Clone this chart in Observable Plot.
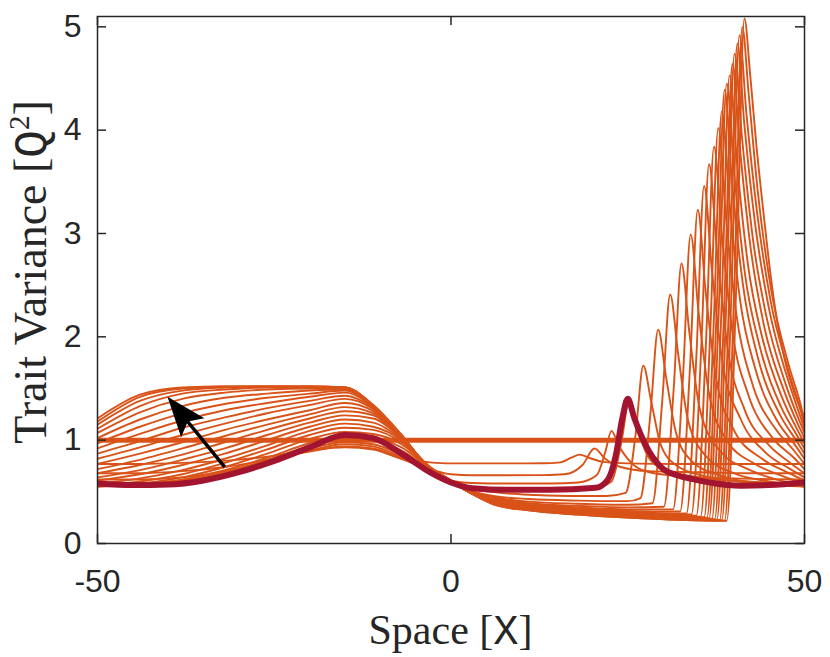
<!DOCTYPE html>
<html><head><meta charset="utf-8">
<script src="https://cdn.jsdelivr.net/npm/d3@7"></script>
<script src="https://cdn.jsdelivr.net/npm/@observablehq/plot@0.6"></script>
<style>body{margin:0;background:#fff}</style>
</head><body><div id="chart"></div>
<script>
// ---- tick values ----
const xTicks = [-50, 0, 50];
const yTicks = [0, 1, 2, 3, 4, 5];

// ---- orange curves: shared left grid (x from -50 to 0) ----
const leftX = [-50, -44, -38, -32, -26, -20, -15, -11, -7, -3, 0];
const leftY = [
  [.77,.77,.78,.80,.84,.90,.93,.91,.82,.785,.775],
  [.68,.68,.70,.74,.81,.89,.94,.92,.82,.72,.67],
  [.62,.62,.64,.70,.79,.90,.96,.94,.83,.69,.61],
  [.58,.58,.61,.68,.79,.92,.98,.96,.85,.69,.59],
  [.56,.57,.61,.69,.81,.94,1.01,.99,.90,.72,.60],
  [.55,.57,.62,.71,.83,.97,1.04,1.02,.93,.73,.60],
  [.55,.58,.64,.74,.87,1.01,1.08,1.06,.96,.74,.61],
  [.56,.60,.67,.78,.91,1.05,1.12,1.10,.98,.74,.61],
  [.58,.63,.71,.82,.95,1.09,1.16,1.13,1.00,.74,.61],
  [.61,.67,.76,.87,1.00,1.13,1.20,1.17,1.01,.74,.61],
  [.64,.71,.81,.92,1.05,1.17,1.24,1.21,1.02,.74,.61],
  [.68,.76,.86,.98,1.10,1.21,1.28,1.24,1.02,.73,.60],
  [.72,.81,.92,1.04,1.15,1.25,1.32,1.26,1.03,.73,.60],
  [.77,.87,.98,1.10,1.20,1.29,1.36,1.28,1.03,.73,.60],
  [.82,.93,1.05,1.16,1.26,1.34,1.40,1.30,1.03,.73,.60],
  [.87,.99,1.12,1.22,1.31,1.38,1.43,1.31,1.04,.73,.60],
  [.92,1.06,1.19,1.29,1.36,1.42,1.46,1.32,1.04,.72,.60],
  [.97,1.13,1.26,1.35,1.41,1.45,1.48,1.32,1.04,.72,.60],
  [1.02,1.20,1.33,1.41,1.45,1.48,1.49,1.33,1.04,.72,.60],
  [1.07,1.27,1.40,1.46,1.49,1.50,1.50,1.33,1.04,.72,.60],
  [1.11,1.33,1.45,1.49,1.51,1.51,1.51,1.33,1.04,.72,.60],
  [1.15,1.38,1.48,1.51,1.52,1.52,1.51,1.33,1.05,.72,.60],
  [1.18,1.42,1.50,1.52,1.52,1.52,1.51,1.34,1.05,.72,.60],
  [1.21,1.44,1.51,1.52,1.52,1.52,1.51,1.34,1.05,.72,.60]
];

// ---- orange curves: right part (x > 0), [x, y] ----
const rightPts = [
  [[3,.775],[8,.775],[13,.776],[15.5,.785],[17,.83],[18.2,.86],[19.5,.83],[21.5,.79],[25,.775],[32,.77],[40,.77],[50,.77]],
  [[3,.66],[8,.66],[13,.662],[16,.67],[18.6,.76],[20.3,.92],[21.8,.82],[24,.74],[28,.70],[35,.69],[42,.68],[50,.68]],
  [[3,.585],[8,.58],[14,.58],[18,.59],[20.6,.66],[21.8,.88],[22.7,1.09],[23.7,.95],[25.5,.78],[28,.69],[33,.65],[40,.63],[50,.62]],
  [[3,.54],[8,.53],[15,.525],[20,.53],[22.7,.60],[24.1,.98],[25.2,1.38],[26.3,1.12],[27.8,.85],[30,.72],[35,.64],[42,.60],[50,.58]],
  [[3,.53],[7,.49],[12,.47],[18,.46],[22,.46],[24.7,.49],[26.1,1.05],[27.2,1.72],[28.3,1.38],[29.7,.95],[32,.75],[36,.65],[42,.59],[50,.56]],
  [[2.5,.52],[6,.46],[11,.43],[18,.415],[25,.41],[26.8,.44],[28.2,1.25],[29.3,2.07],[30.4,1.62],[31.8,1.08],[34,.80],[38,.66],[44,.58],[50,.55]],
  [[2.5,.515],[6,.45],[11,.405],[18,.385],[25,.375],[28.5,.39],[29.9,1.40],[31,2.41],[32.1,1.85],[33.5,1.20],[36,.85],[40,.68],[45,.60],[50,.55]],
  [[2.5,.51],[6,.44],[11,.39],[18,.365],[25,.35],[30.1,.355],[31.5,1.50],[32.6,2.71],[33.7,2.05],[35.2,1.30],[38,.90],[42,.72],[46,.62],[50,.56]],
  [[2.5,.505],[6,.435],[11,.38],[18,.35],[25,.33],[31.4,.33],[32.8,1.60],[33.9,2.99],[35,2.25],[36.5,1.45],[39,1.00],[43,.77],[47,.65],[50,.58]],
  [[2.5,.50],[6,.43],[11,.375],[18,.34],[25,.315],[32.4,.31],[33.8,1.70],[34.9,3.23],[36,2.45],[37.5,1.60],[40,1.10],[44,.82],[47.5,.69],[50,.61]],
  [[2.5,.50],[6,.425],[11,.37],[18,.33],[25,.305],[33.3,.29],[34.7,1.80],[35.8,3.46],[36.9,2.65],[38.4,1.75],[41,1.20],[44.5,.88],[48,.72],[50,.64]],
  [[2.5,.50],[6,.42],[11,.365],[18,.325],[25,.295],[34,.28],[35.4,1.90],[36.5,3.67],[37.6,2.85],[39.1,1.90],[41.5,1.30],[45,.95],[48,.78],[50,.68]],
  [[2.5,.50],[6,.415],[11,.36],[18,.32],[25,.29],[34.7,.27],[36.1,2.00],[37.2,3.84],[38.3,3.00],[39.8,2.05],[42,1.45],[45.5,1.02],[48.5,.83],[50,.72]],
  [[2.5,.50],[6,.41],[11,.355],[18,.315],[25,.285],[35.3,.26],[36.7,2.10],[37.8,4.02],[38.9,3.15],[40.4,2.20],[42.6,1.55],[46,1.10],[48.5,.90],[50,.77]],
  [[2.5,.50],[6,.405],[11,.35],[18,.31],[25,.28],[35.8,.255],[37.2,2.20],[38.3,4.18],[39.4,3.30],[40.9,2.35],[43,1.70],[46.2,1.18],[48.7,.95],[50,.82]],
  [[2.5,.50],[6,.40],[11,.345],[18,.305],[25,.275],[36.2,.25],[37.6,2.30],[38.7,4.39],[39.8,3.45],[41.3,2.50],[43.4,1.80],[46.5,1.25],[48.8,1.00],[50,.87]],
  [[2.5,.50],[6,.40],[11,.34],[18,.30],[25,.27],[36.5,.245],[37.9,2.30],[39,4.45],[40.1,3.55],[41.6,2.60],[43.7,1.90],[46.7,1.32],[48.9,1.05],[50,.92]],
  [[2.5,.50],[6,.395],[11,.335],[18,.295],[25,.265],[36.9,.24],[38.3,2.35],[39.4,4.53],[40.5,3.65],[42,2.70],[44,2.00],[46.9,1.40],[49,1.10],[50,.97]],
  [[2.5,.50],[6,.39],[11,.33],[18,.29],[25,.26],[37.3,.235],[38.7,2.40],[39.8,4.64],[40.9,3.80],[42.4,2.85],[44.3,2.10],[47.1,1.48],[49.1,1.15],[50,1.02]],
  [[2.5,.50],[6,.39],[11,.33],[18,.29],[25,.26],[37.6,.23],[39,2.45],[40.1,4.74],[41.2,3.90],[42.7,2.95],[44.6,2.20],[47.3,1.55],[49.2,1.20],[50,1.07]],
  [[2.5,.50],[6,.385],[11,.325],[18,.285],[25,.255],[38,.225],[39.4,2.50],[40.5,4.84],[41.5,4.05],[43,3.10],[44.9,2.30],[47.5,1.62],[49.3,1.25],[50,1.11]],
  [[2.5,.50],[6,.385],[11,.325],[18,.285],[25,.255],[38.3,.225],[39.7,2.50],[40.8,4.92],[41.8,4.15],[43.3,3.20],[45.2,2.35],[47.7,1.68],[49.4,1.30],[50,1.15]],
  [[2.5,.50],[6,.38],[11,.32],[18,.28],[25,.25],[38.7,.22],[40.1,2.55],[41.2,5.00],[42.1,4.35],[43.4,3.40],[45.3,2.45],[47.8,1.72],[49.5,1.33],[50,1.18]],
  [[2.5,.50],[6,.38],[11,.32],[18,.28],[25,.25],[39,.22],[40.4,2.60],[41.5,5.08],[42.3,4.55],[43.2,3.85],[44.2,3.20],[45.2,2.60],[46.2,2.12],[47.2,1.78],[48.5,1.47],[50,1.22]]
];

// ---- highlighted (dark red) curve ----
const redX = [-50,-45,-40,-35,-30,-25,-20,-15,-11,-7,-3,0,3,8,14,20.5,22.2,23.3,24.2,25,25.9,27.4,29.7,32,34.4,37,41,45,50];
const redY = [.58,.565,.57,.61,.69,.80,.93,1.05,1.02,.87,.69,.59,.535,.52,.52,.54,.62,.85,1.20,1.40,1.22,.97,.74,.66,.62,.585,.56,.565,.59];

// ---- initial condition and arrow annotation ----
const initialLevel = [1];
const arrowFrom = [-32, 0.74];
const arrowTo = [-40.1, 1.42];

// ---- build tables ----
const series = [];
leftY.forEach((row, k) => {
  row.forEach((y, i) => series.push({k, x: leftX[i], y}));
  rightPts[k].forEach(([x, y]) => series.push({k, x, y}));
});
const red = redX.map((x, i) => ({x, y: redY[i]}));

const W = 830, H = 657, mL = 97, mR = 26, mT = 16, mB = 114;
const innerW = W - mL - mR, innerH = H - mT - mB;
const yMax = 5.1;
const axisColor = "#262626";
const orange = "#D95319", darkRed = "#A2142F";

// arrowhead orientation in screen space
const sdx = (arrowTo[0] - arrowFrom[0]) * innerW / 100;
const sdy = -(arrowTo[1] - arrowFrom[1]) * innerH / yMax;
const ang = Math.atan2(sdx, -sdy);
const headSymbol = {
  draw(ctx) {
    const c = Math.cos(ang), s = Math.sin(ang);
    const P = (px, py) => [px * c - py * s, px * s + py * c];
    const pts = [P(0, 0), P(15, 40), P(0, 32), P(-15, 40)];
    ctx.moveTo(...pts[0]);
    for (let i = 1; i < pts.length; i++) ctx.lineTo(...pts[i]);
    ctx.closePath();
  }
};
const shaftEnd = [arrowFrom[0] + 0.85 * (arrowTo[0] - arrowFrom[0]), arrowFrom[1] + 0.85 * (arrowTo[1] - arrowFrom[1])];

const plot = Plot.plot({
  width: W, height: H,
  marginLeft: mL, marginRight: mR, marginTop: mT, marginBottom: mB,
  style: {fontFamily: "'Liberation Sans', Arial, sans-serif", fontSize: "32px", color: axisColor, background: "#fff", overflow: "visible"},
  x: {domain: [-50, 50]},
  y: {domain: [0, yMax]},
  marks: [
    Plot.line(series, {x: "x", y: "y", z: "k", stroke: orange, strokeWidth: 1.9, curve: "monotone-x", clip: true}),
    Plot.ruleY(initialLevel, {stroke: orange, strokeWidth: 5}),
    Plot.line(red, {x: "x", y: "y", stroke: darkRed, strokeWidth: 6, curve: "monotone-x", clip: true}),
    Plot.link([0], {x1: () => arrowFrom[0], y1: () => arrowFrom[1], x2: () => shaftEnd[0], y2: () => shaftEnd[1], stroke: "#000", strokeWidth: 3.5}),
    Plot.dot([0], {x: () => arrowTo[0], y: () => arrowTo[1], symbol: headSymbol, fill: "#000", stroke: "none", r: 10}),
    Plot.frame({stroke: axisColor, strokeWidth: 1.5}),
    Plot.tickY(yTicks, {y: d => d, stroke: axisColor, strokeWidth: 1.5, insetRight: innerW - 9}),
    Plot.tickY(yTicks, {y: d => d, stroke: axisColor, strokeWidth: 1.5, insetLeft: innerW - 9}),
    Plot.tickX(xTicks, {x: d => d, stroke: axisColor, strokeWidth: 1.5, insetTop: innerH - 9}),
    Plot.tickX(xTicks, {x: d => d, stroke: axisColor, strokeWidth: 1.5, insetBottom: innerH - 9}),
    Plot.axisY(yTicks, {tickSize: 0, tickPadding: 16, fontSize: 32, label: null, tickFormat: d => String(d)}),
    Plot.axisX(xTicks, {tickSize: 0, tickPadding: 26, fontSize: 32, label: null, tickFormat: d => String(d)})
  ]
});

const svg = d3.select(plot);
// x label
const xl = svg.append("text")
  .attr("x", mL + innerW / 2).attr("y", 644)
  .attr("text-anchor", "middle").attr("fill", axisColor)
  .style("font-family", "'Liberation Serif', 'Times New Roman', serif").style("font-size", "42px");
xl.append("tspan").text("Space [");
xl.append("tspan").style("font-family", "'Liberation Mono', monospace").text("X");
xl.append("tspan").text("]");
// y label
const yl = svg.append("text")
  .attr("transform", `translate(46,${272})rotate(-90)`)
  .attr("text-anchor", "middle").attr("fill", axisColor)
  .style("font-family", "'Liberation Serif', 'Times New Roman', serif").style("font-size", "46px");
yl.append("tspan").text("Trait Variance [");
yl.append("tspan").style("font-family", "'Liberation Mono', monospace").text("Q");
yl.append("tspan").attr("dy", -17).style("font-size", "29px").text("2");
yl.append("tspan").attr("dy", 17).text("]");

document.getElementById("chart").appendChild(plot);
</script>
</body></html>
